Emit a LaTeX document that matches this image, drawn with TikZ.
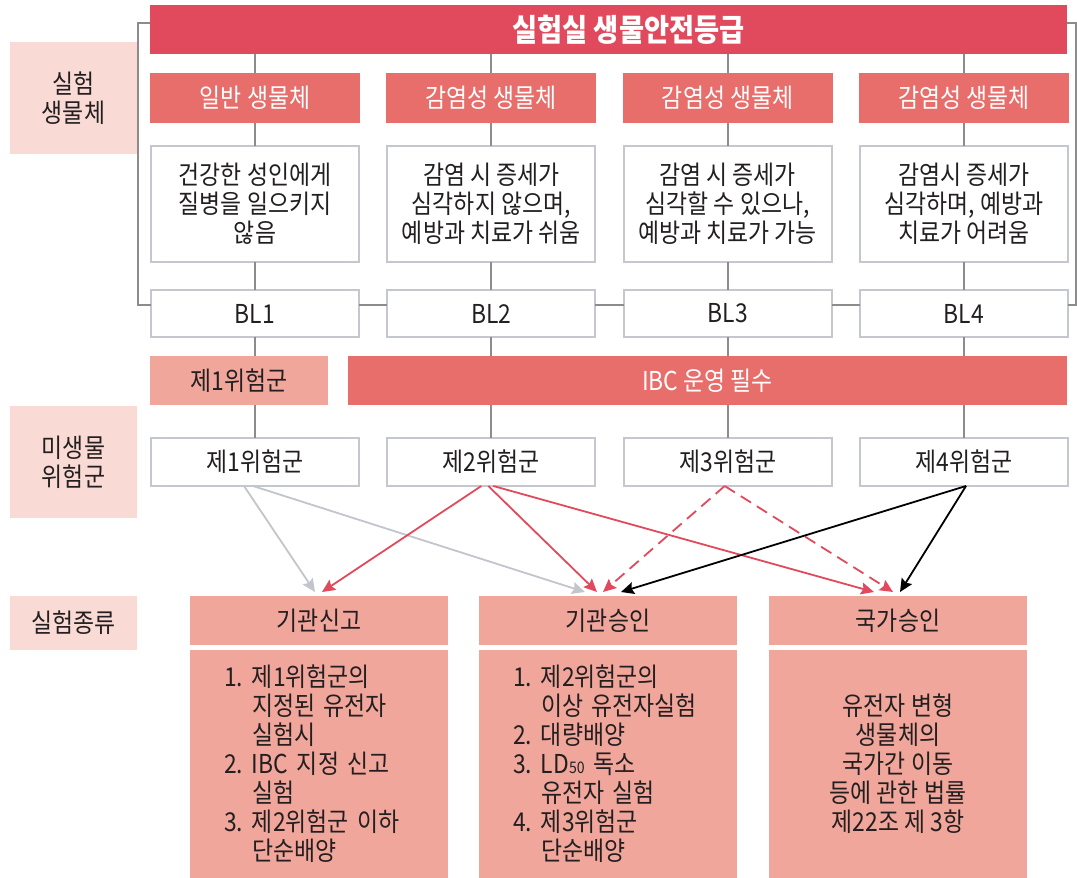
\documentclass[tikz,border=0pt]{standalone}
\usepackage{fontspec}
\setmainfont[FakeStretch=0.88]{Noto Sans CJK KR}
\usetikzlibrary{arrows.meta,positioning,calc}
\usepackage{xcolor}

\definecolor{titlered}{HTML}{E14A5C}
\definecolor{headred}{HTML}{E76E6B}
\definecolor{salmon}{HTML}{F0A69B}
\definecolor{blush}{HTML}{F9DAD4}
\definecolor{boxline}{HTML}{C4C7CD}
\definecolor{linegray}{HTML}{8C8C8C}
\definecolor{arrgray}{HTML}{C2C5CB}
\definecolor{ink}{HTML}{231F20}

\newcommand{\kfont}[1]{\fontsize{#1}{29}\selectfont}
\newcommand{\lnum}[1]{\makebox[28pt][l]{#1}}
\newcommand{\lind}{\hspace*{28pt}}

\begin{document}
\begin{tikzpicture}[x=1pt, y=-1pt,
  >={Stealth[length=13pt,width=12pt,inset=2pt]},
  every node/.style={inner sep=0pt, outer sep=0pt, text=ink, font=\kfont{26}},
  titlebar/.style={fill=titlered, text=white, font=\kfont{31}\bfseries,
    minimum width=917, minimum height=49},
  headbox/.style={fill=headred, text=white, minimum width=210, minimum height=50},
  descbox/.style={draw=boxline, line width=2pt, fill=white, align=center,
    minimum width=208, minimum height=116},
  blbox/.style={draw=boxline, line width=2pt, fill=white,
    minimum width=208, minimum height=47},
  sidebox/.style={fill=blush, align=center, font=\kfont{26}, minimum width=127},
  kindhead/.style={fill=salmon, minimum width=258, minimum height=49},
  kindbody/.style={fill=salmon, minimum width=258, minimum height=228, align=center},
  kindlist/.style={kindbody, text width=190, align=left},
  conn/.style={draw=linegray, line width=2.2pt},
  grayarr/.style={->, draw=arrgray, line width=1.8pt},
  redarr/.style={->, draw=titlered, line width=1.8pt},
  dasharr/.style={->, draw=titlered, line width=1.8pt, dash pattern=on 12pt off 7pt},
  blackarr/.style={->, draw=black, line width=1.8pt}]

  \useasboundingbox (0,0) rectangle (1077,878);

  %% Row labels on the left
  \node[sidebox, minimum height=112] (lorg)  at (73.5,98)  {실험\\생물체};
  \node[sidebox, minimum height=112] (lrisk) at (73.5,462) {미생물\\위험군};
  \node[sidebox, minimum height=54]  (lkind) at (73.5,623) {실험종류};

  %% Title bar
  \node[titlebar] (title) at (608.5,29.5) {\hspace*{40pt}실험실 생물안전등급};

  %% Organism headers
  \node[headbox] (hd1) at (255,98)   {일반 생물체};
  \node[headbox] (hd2) at (491.3,98) {감염성 생물체};
  \node[headbox] (hd3) at (727.7,98) {감염성 생물체};
  \node[headbox] (hd4) at (964,98)   {감염성 생물체};

  %% Descriptions
  \node[descbox] (ds1) at (255,204)   {건강한 성인에게\\질병을 일으키지\\않음};
  \node[descbox] (ds2) at (491.3,204) {감염 시 증세가\\심각하지 않으며,\\예방과 치료가 쉬움};
  \node[descbox] (ds3) at (727.7,204) {감염 시 증세가\\심각할 수 있으나,\\예방과 치료가 가능};
  \node[descbox] (ds4) at (964,204)   {감염시 증세가\\심각하며, 예방과\\치료가 어려움};

  %% Biosafety levels
  \node[blbox] (bl1) at (255,313.5)   {BL1};
  \node[blbox] (bl2) at (491.3,313.5) {BL2};
  \node[blbox] (bl3) at (727.7,313.5) {BL3};
  \node[blbox] (bl4) at (964,313.5)   {BL4};

  %% Group / IBC bars
  \node[fill=salmon, minimum width=178, minimum height=49] (grp1) at (239,380.5) {제1위험군};
  \node[fill=headred, text=white, minimum width=719, minimum height=49] (ibc) at (707.5,380.5) {IBC 운영 필수};

  %% Risk groups
  \node[blbox, minimum height=48] (rk1) at (255,462)   {제1위험군};
  \node[blbox, minimum height=48] (rk2) at (491.3,462) {제2위험군};
  \node[blbox, minimum height=48] (rk3) at (727.7,462) {제3위험군};
  \node[blbox, minimum height=48] (rk4) at (964,462)   {제4위험군};

  %% Experiment kinds
  \node[kindhead] (kin1) at (319,620.5) {기관신고};
  \node[kindhead] (kin2) at (608,620.5) {기관승인};
  \node[kindhead] (kin3) at (898,620.5) {국가승인};

  \node[kindlist] (bd1) at (319,764)
    {\lnum{1.}제1위험군의\\ \lind 지정된 유전자\\ \lind 실험시\\
     \lnum{2.}IBC 지정 신고\\ \lind 실험\\
     \lnum{3.}제2위험군 이하\\ \lind 단순배양};
  \node[kindlist] (bd2) at (608,764)
    {\lnum{1.}제2위험군의\\ \lind 이상 유전자실험\\
     \lnum{2.}대량배양\\
     \lnum{3.}LD{\fontsize{16}{16}\selectfont 50} 독소\\ \lind 유전자 실험\\
     \lnum{4.}제3위험군\\ \lind 단순배양};
  \node[kindbody] (bd3) at (898,764)
    {유전자 변형\\생물체의\\국가간 이동\\등에 관한 법률\\제22조 제 3항};

  %% Bracket round the organism rows
  \draw[conn] ([yshift=6.5]title.west) -- ++(-12,0) |- ([yshift=8.5]bl1.west);
  \draw[conn] ([yshift=6.5]title.east) -- ++(9,0) |- ([yshift=8.5]bl4.east);

  %% Vertical connectors
  \draw[conn] (title.south -| hd1.north) -- (hd1.north);
  \draw[conn] (title.south -| hd2.north) -- (hd2.north);
  \draw[conn] (title.south -| hd3.north) -- (hd3.north);
  \draw[conn] (title.south -| hd4.north) -- (hd4.north);
  \draw[conn] (hd1) -- (ds1);
  \draw[conn] (hd2) -- (ds2);
  \draw[conn] (hd3) -- (ds3);
  \draw[conn] (hd4) -- (ds4);
  \draw[conn] (ds1) -- (bl1);
  \draw[conn] (ds2) -- (bl2);
  \draw[conn] (ds3) -- (bl3);
  \draw[conn] (ds4) -- (bl4);
  \draw[conn] (bl1.south) -- (bl1.south |- grp1.north);
  \draw[conn] (grp1.south -| rk1.north) -- (rk1.north);
  \draw[conn] (bl2.south) -- (bl2.south |- ibc.north);
  \draw[conn] (bl3.south) -- (bl3.south |- ibc.north);
  \draw[conn] (bl4.south) -- (bl4.south |- ibc.north);
  \draw[conn] (ibc.south -| rk2.north) -- (rk2.north);
  \draw[conn] (ibc.south -| rk3.north) -- (rk3.north);
  \draw[conn] (ibc.south -| rk4.north) -- (rk4.north);

  %% BL row links
  \draw[conn] ([yshift=8.5]bl1.east) -- ([yshift=8.5]bl2.west);
  \draw[conn] ([yshift=8.5]bl2.east) -- ([yshift=8.5]bl3.west);
  \draw[conn] ([yshift=8.5]bl3.east) -- ([yshift=8.5]bl4.west);

  %% Risk group -> experiment kind
  \draw[grayarr] ([xshift=-11]rk1.south) -- ([xshift=-4,yshift=4]kin1.north);
  \draw[grayarr] ([xshift=-2]rk1.south)  -- ([xshift=-23,yshift=4]kin2.north);
  \draw[redarr]  ([xshift=-10]rk2.south) -- ([xshift=3,yshift=4]kin1.north);
  \draw[redarr]  ([xshift=-3]rk2.south)  -- ([xshift=-11,yshift=4]kin2.north);
  \draw[redarr]  ([xshift=2]rk2.south)   -- ([xshift=-24,yshift=4]kin3.north);
  \draw[dasharr] ([xshift=-3]rk3.south)  -- ([xshift=-5,yshift=4]kin2.north);
  \draw[dasharr] ([xshift=-3]rk3.south)  -- ([xshift=-5,yshift=4]kin3.north);
  \draw[blackarr] ([xshift=2]rk4.south)  -- ([xshift=13,yshift=4]kin2.north);
  \draw[blackarr] ([xshift=2]rk4.south)  -- ([xshift=2,yshift=4]kin3.north);
\end{tikzpicture}
\end{document}
